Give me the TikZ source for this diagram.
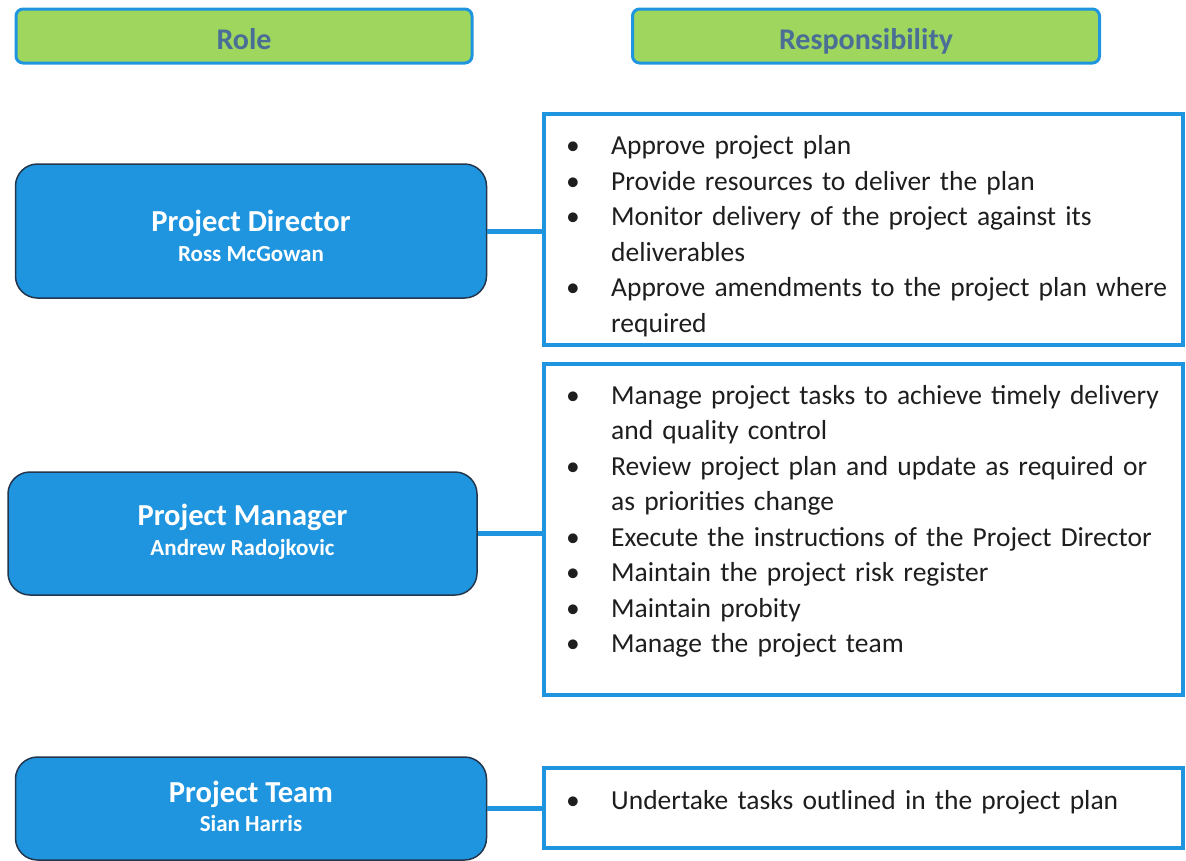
\documentclass[tikz,border=0pt]{standalone}
\usepackage{fontspec}
\setmainfont{Carlito}
\usepackage{tikz}
\usetikzlibrary{positioning,calc}
\definecolor{ink}   {HTML}{1E1E1E}
\definecolor{azure} {HTML}{1F95E0}
\definecolor{navy}  {HTML}{23364C}
\definecolor{lime}  {HTML}{9ED65E}
\definecolor{slate} {HTML}{4A6E96}
\newcommand{\bitem}[1]{\par\hangindent=49pt\hangafter=1\noindent
  \makebox[49pt][l]{\hspace{4pt}\textbullet}#1}
\tikzset{
  % --- nodes
  head/.style  = {rounded corners=7pt, draw=azure, line width=3pt, fill=lime,
                  minimum height=54pt, text=slate, inner sep=0pt,
                  text height=26pt, text depth=0pt,
                  font=\fontsize{30}{36}\selectfont\bfseries},
  role/.style  = {rounded corners=22pt, draw=navy, line width=1.5pt, fill=azure,
                  inner sep=0pt},
  rtitle/.style= {anchor=base, text=white, inner sep=0pt,
                  font=\fontsize{30.5}{35}\selectfont\bfseries},
  rname/.style = {anchor=base, text=white, inner sep=0pt,
                  font=\fontsize{23}{27}\selectfont\bfseries},
  duty/.style  = {draw=azure, line width=4pt, fill=white, minimum width=639pt,
                  inner sep=0pt},
  lst/.style   = {text width=620pt, inner sep=0pt, align=left, text=ink,
                  anchor=north west, font=\fontsize{27.5}{35.5}\selectfont},
  % --- edges
  e/.style     = {draw=azure, line width=5pt},
}

\begin{document}
\begin{tikzpicture}[x=1pt,y=-1pt]
  \useasboundingbox (0,0) rectangle (1186,860);
  % headers
  \node[head, minimum width=456pt] (hrole) at (244,36) {Role};
  \node[head, minimum width=467pt] (hresp) at (866,36) {Responsibility};
  % roles
  \node[role, minimum width=471pt, minimum height=134pt] (pd) at (251,231) {};
  \node[role, minimum width=469pt, minimum height=123pt] (pm) at (242.5,533.5) {};
  \node[role, minimum width=471pt, minimum height=103pt] (pt) at (251,808.5) {};
  \node[rtitle] (pdt) at ($(pd.center)+(0,0)$)    {Project Director};
  \node[rname]  (pdn) at ($(pd.center)+(0,30)$)   {Ross McGowan};
  \node[rtitle] (pmt) at ($(pm.center)+(0,-8.5)$) {Project Manager};
  \node[rname]  (pmn) at ($(pm.center)+(0,21.5)$) {Andrew Radojkovic};
  \node[rtitle] (ptt) at ($(pt.center)+(0,-6.5)$) {Project Team};
  \node[rname]  (ptn) at ($(pt.center)+(0,22.5)$) {Sian Harris};
  % responsibility boxes
  \node[duty, minimum height=231pt] (d1) at (863.5,229.5) {};
  \node[duty, minimum height=331pt] (d2) at (863.5,529.5) {};
  \node[duty, minimum height=80pt]  (d3) at (863.5,808) {};
  \node[lst] (l1) at (562,119) {%
    \bitem{Approve project plan}
    \bitem{Provide resources to deliver the plan}
    \bitem{Monitor delivery of the project against its\hfil\break deliverables}
    \bitem{Approve amendments to the project plan where\hfil\break required}\par};
  \node[lst] (l2) at (562,368.5) {%
    \bitem{Manage project tasks to achieve timely delivery\hfil\break and quality control}
    \bitem{Review project plan and update as required or\hfil\break as priorities change}
    \bitem{Execute the instructions of the Project Director}
    \bitem{Maintain the project risk register}
    \bitem{Maintain probity}
    \bitem{Manage the project team}\par};
  \node[lst] (l3) at (562,774) {%
    \bitem{Undertake tasks outlined in the project plan}\par};
  % connectors
  \draw[e] (pd.east) -- (pd.east -| d1.west);
  \draw[e] (pm.east) -- (pm.east -| d2.west);
  \draw[e] (pt.east) -- (pt.east -| d3.west);
\end{tikzpicture}
\end{document}
